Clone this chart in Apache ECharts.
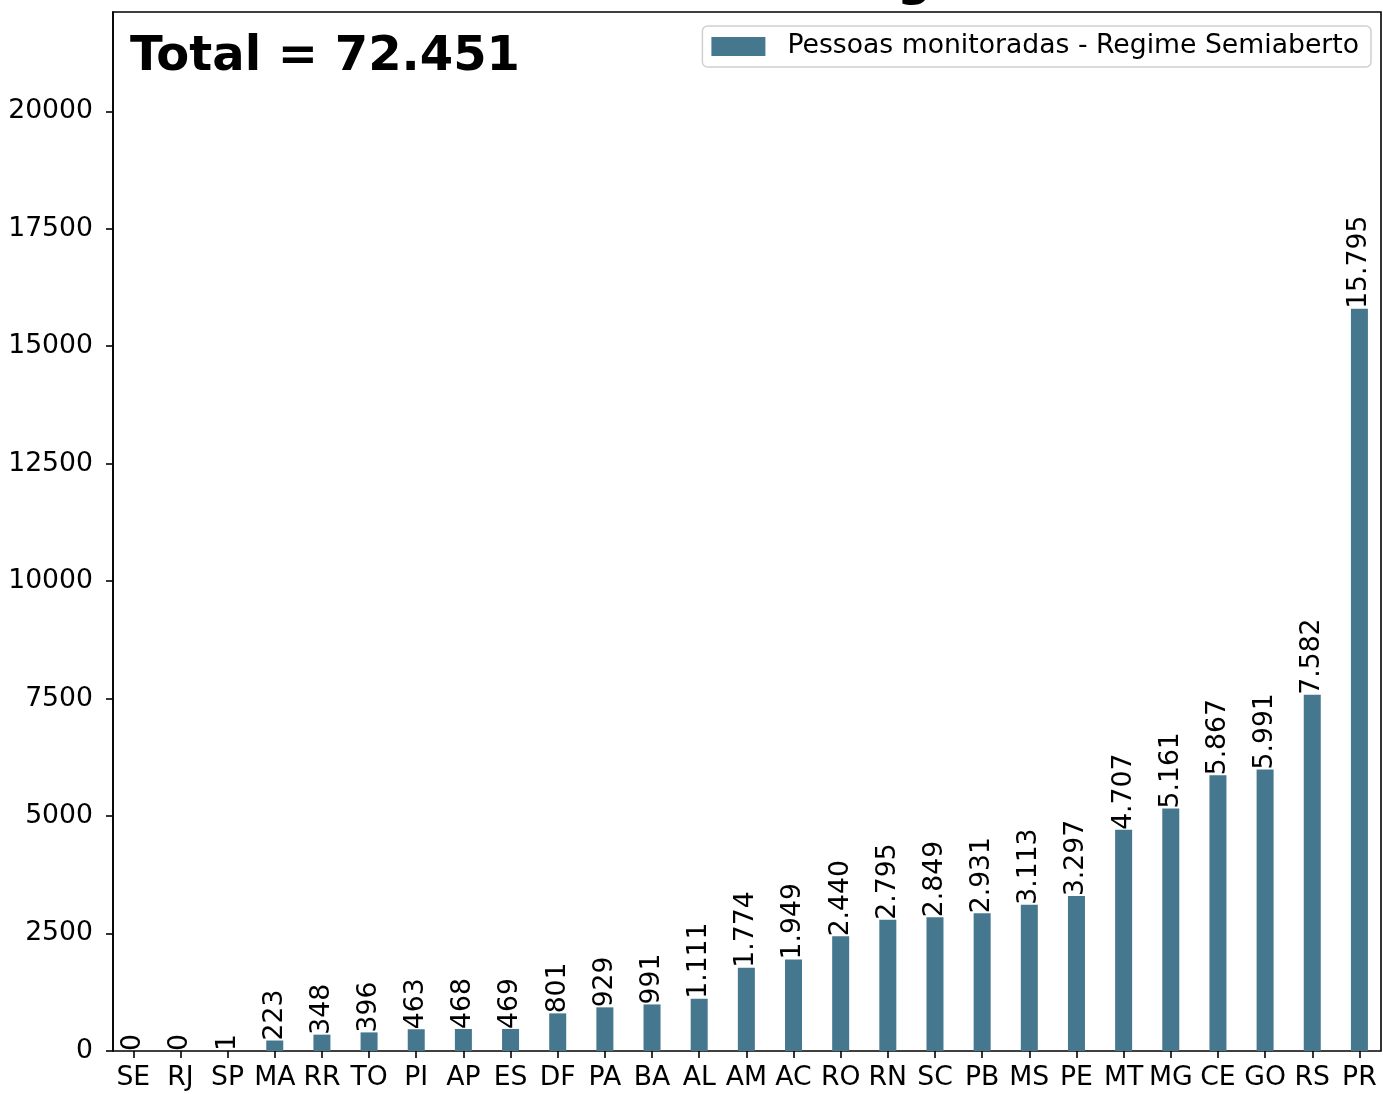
<!DOCTYPE html>
<html>
<head>
<meta charset="utf-8">
<script src="https://cdn.jsdelivr.net/npm/echarts@6/dist/echarts.min.js"></script>
<style>
  html, body { margin: 0; padding: 0; background: #fff; }
  #chart { width: 1383px; height: 1094px; }
</style>
</head>
<body>
<div id="chart"></div>
<script>
const estados = ['SE', 'RJ', 'SP', 'MA', 'RR', 'TO', 'PI', 'AP', 'ES', 'DF', 'PA', 'BA', 'AL', 'AM',
  'AC', 'RO', 'RN', 'SC', 'PB', 'MS', 'PE', 'MT', 'MG', 'CE', 'GO', 'RS', 'PR']
const semiaberto = [0, 0, 1, 223, 348, 396, 463, 468, 469, 801, 929, 991, 1111, 1774,
  1949, 2440, 2795, 2849, 2931, 3113, 3297, 4707, 5161, 5867, 5991, 7582, 15795]
const yTicks = [0, 2500, 5000, 7500, 10000, 12500, 15000, 17500, 20000]

const barColor = '#45778f'
const fonte = 'DejaVu Sans'
const fs = 26.67

// separador de milhar com ponto
function fmt(v) {
  return String(v).replace(/\B(?=(\d{3})+(?!\d))/g, '.')
}

const total = semiaberto.reduce((a, b) => a + b, 0)
const yMax = Math.max(...semiaberto) * 1.4

const chart = echarts.init(document.getElementById('chart'))
chart.setOption({
  animation: false,
  backgroundColor: '#fff',
  textStyle: { fontFamily: fonte },
  legend: {
    data: ['Pessoas monitoradas - Regime Semiaberto'],
    icon: 'rect',
    right: 12,
    top: 26,
    padding: [7, 12, 7, 9],
    itemWidth: 54,
    itemHeight: 19,
    itemGap: 10,
    borderColor: '#d0d0d0',
    borderWidth: 1.5,
    borderRadius: 5,
    backgroundColor: '#fff',
    textStyle: { fontSize: fs, color: '#000', fontFamily: fonte, padding: [0, 0, 0, 17] }
  },
  graphic: [
    {
      type: 'text',
      left: 130,
      top: 34,
      style: { text: 'Total = ' + fmt(total), font: 'bold 48px "DejaVu Sans"', fill: '#000' }
    },
    {
      // título da figura, cortado pela borda superior
      type: 'text',
      left: 897,
      top: -41,
      style: { text: 'g', font: 'bold 48px "DejaVu Sans"', fill: '#000' }
    }
  ],
  grid: [
    { left: 113, right: 2, top: 12, bottom: 43, show: true, borderColor: '#000', borderWidth: 1.6, backgroundColor: 'transparent' },
    { left: 109.7, width: 1276, top: 12, bottom: 43 }
  ],
  xAxis: [
    { type: 'category', gridIndex: 0, data: estados, show: false },
    {
      type: 'category',
      gridIndex: 1,
      data: estados,
      axisLine: { show: false },
      axisTick: { show: true, alignWithLabel: true, length: 7, lineStyle: { color: '#000', width: 1.6 } },
      axisLabel: { fontSize: fs, color: '#000', margin: 14, interval: 0, fontFamily: fonte }
    }
  ],
  yAxis: [
    {
      type: 'value',
      gridIndex: 0,
      min: 0,
      max: yMax,
      interval: 2500,
      splitLine: { show: false },
      axisLine: { show: true, lineStyle: { color: '#000', width: 1.6 } },
      axisTick: { show: true, length: 7, lineStyle: { color: '#000', width: 1.6 } },
      axisLabel: {
        fontSize: fs,
        color: '#000',
        margin: 20,
        fontFamily: fonte,
        showMaxLabel: false,
        formatter: v => (yTicks.indexOf(v) >= 0 ? String(v) : '')
      }
    },
    { type: 'value', gridIndex: 1, min: 0, max: yMax, show: false }
  ],
  series: [
    {
      name: 'Pessoas monitoradas - Regime Semiaberto',
      type: 'bar',
      xAxisIndex: 1,
      yAxisIndex: 1,
      data: semiaberto,
      barWidth: 17,
      itemStyle: { color: barColor },
      label: {
        show: true,
        position: 'top',
        rotate: 90,
        align: 'left',
        verticalAlign: 'middle',
        distance: 2,
        offset: [-2, 0],
        fontSize: fs,
        color: '#000',
        fontFamily: fonte,
        formatter: p => fmt(p.value)
      }
    }
  ]
})
</script>
</body>
</html>
